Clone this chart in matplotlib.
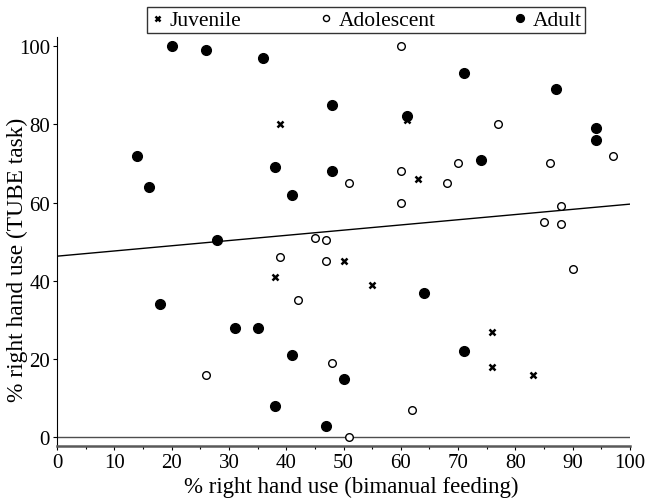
import numpy as np
import matplotlib
matplotlib.use("Agg")
import matplotlib.pyplot as plt

plt.rcParams['font.family'] = ['Liberation Serif', 'DejaVu Serif']

# % right hand use: bimanual feeding (x) vs TUBE task (y)
juv_x = [39, 61, 63, 38, 50, 55, 76, 76, 83]
juv_y = [80, 81, 66, 41, 45, 39, 27, 18, 16]

ado_x = [60, 77, 60, 51, 70, 68, 60, 86, 97, 88, 85, 88, 47, 45, 39, 47, 42, 26, 48, 62, 51, 90]
ado_y = [100, 80, 68, 65, 70, 65, 60, 70, 72, 59, 55, 54.5, 50.5, 51, 46, 45, 35, 16, 19, 7, 0, 43]

adu_x = [20, 26, 36, 14, 16, 38, 41, 28, 71, 87, 48, 61, 94, 94, 48, 74, 18, 31, 35, 41, 38, 47, 64, 71, 50]
adu_y = [100, 99, 97, 72, 64, 69, 62, 50.5, 93, 89, 85, 82, 79, 76, 68, 71, 34, 28, 28, 21, 8, 3, 37, 22, 15]

# fitted line
fit_intercept = 46.3
fit_slope = 0.133

fig = plt.figure(figsize=(6.45, 5.02), dpi=100)
ax = fig.add_axes([57/645, 1 - 447/502, 573/645, 409/502])

ax.axhline(0, color='0.3', lw=1.0, zorder=1)
fx = np.array([0, 100])
ax.plot(fx, fit_intercept + fit_slope * fx, color='black', lw=1.0, zorder=1)

h1, = ax.plot(juv_x, juv_y, 'x', color='black', ms=4.5, mew=1.8, ls='none', label='Juvenile')
h2, = ax.plot(ado_x, ado_y, 'o', mfc='white', mec='black', ms=5.5, mew=1.0, ls='none', label='Adolescent')
h3, = ax.plot(adu_x, adu_y, 'o', color='black', ms=7, ls='none', label='Adult')

ax.set_xlim(0, 100)
ax.set_ylim(-2.2, 102.3)
ax.set_xticks(range(0, 101, 10))
ax.set_xticks(range(5, 100, 10), minor=True)
ax.set_yticks(range(0, 101, 20))
ax.tick_params(labelsize=15, length=3, width=0.8, pad=2)
ax.tick_params(which='minor', length=2, width=0.8)
ax.spines['top'].set_visible(False)
ax.spines['right'].set_visible(False)
ax.spines['bottom'].set_color('0.35')
ax.spines['bottom'].set_linewidth(1.8)

ax.set_xlabel('% right hand use (bimanual feeding)', fontsize=16.5)
ax.set_ylabel('% right hand use (TUBE task)', fontsize=16.8)
ax.xaxis.set_label_coords(0.514, -0.073)
ax.yaxis.set_label_coords(-0.051, 0.457)

leg = fig.legend(handles=[h1, h2, h3], loc='upper center', bbox_to_anchor=(366/645, 1 + 3/502),
                 ncol=3, fontsize=15.5, frameon=True, fancybox=False, edgecolor='black',
                 handlelength=0.6, handletextpad=0.3, columnspacing=3.6, borderpad=0.15,
                 markerscale=0.8)
leg.get_frame().set_linewidth(1.0)

fig.savefig('out.png', dpi=100)
